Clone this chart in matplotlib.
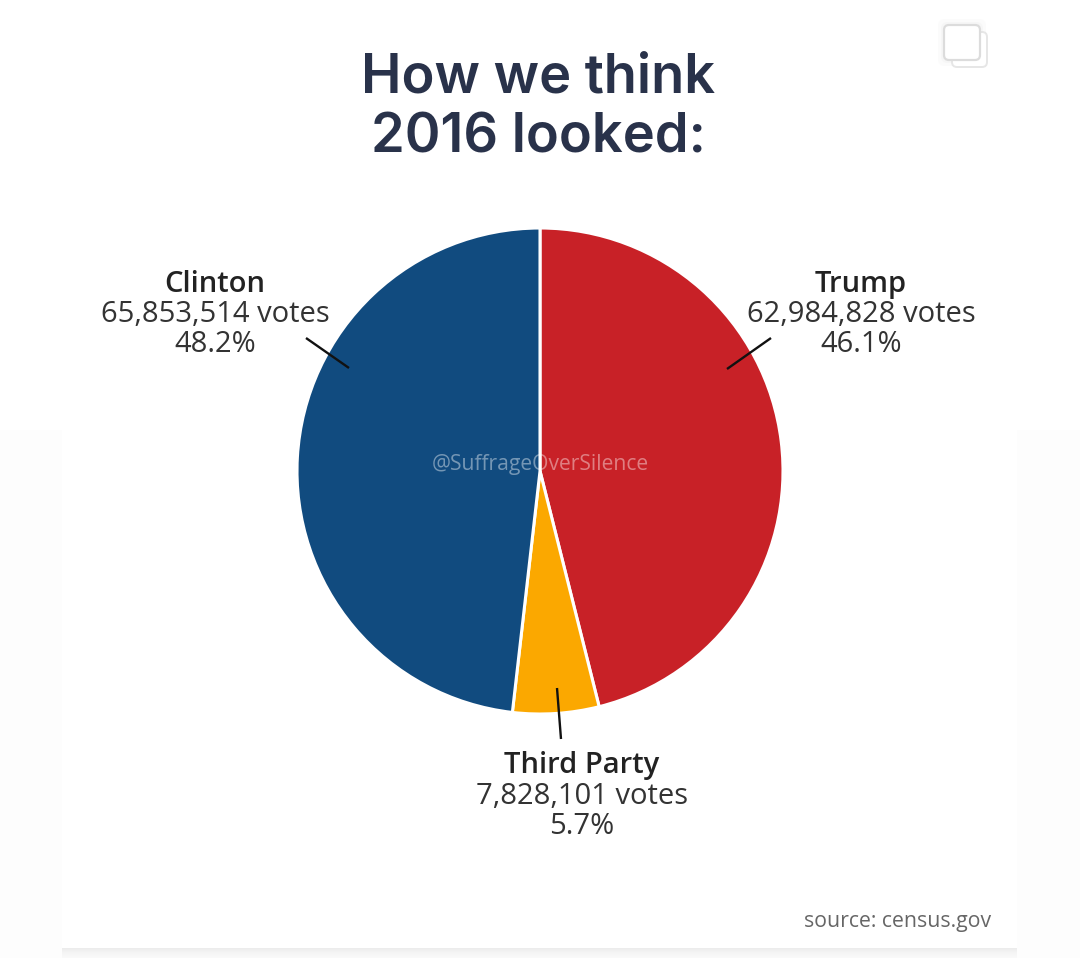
import matplotlib
matplotlib.use('Agg')
import matplotlib.pyplot as plt
from matplotlib.patches import FancyBboxPatch, Rectangle

W, H = 1080, 958

# order is clockwise from 12 o'clock, same as the reference
candidates = ['Trump', 'Third Party', 'Clinton']
votes = [62984828, 7828101, 65853514]
percents = ['46.1%', '5.7%', '48.2%']
colors = ['#c82127', '#fba800', '#114b7f']

title_lines = ['How we think', '2016 looked:']
watermark = '@SuffrageOverSilence'
source = 'source: census.gov'


def py(y):
    # reference pixels are measured from the top
    return H - y


fig = plt.figure(figsize=(W / 100, H / 100), dpi=100, facecolor='#fdfdfd')
ax = fig.add_axes([0, 0, 1, 1])

# white card behind everything, with the soft shadow along the bottom
ax.add_patch(Rectangle((62, py(948)), 955, 520, fc='white', ec='none', zorder=0))
ax.add_patch(Rectangle((0, py(430)), W, 430, fc='white', ec='none', zorder=0))
shadow = ['#ececec', '#eeeeee', '#f0f0f0', '#f2f2f2', '#f4f4f4', '#f5f5f5', '#f6f6f6', '#f7f7f7', '#f8f8f8', '#f9f9f9']
for i, c in enumerate(shadow):
    ax.add_patch(Rectangle((62, py(949 + i)), 955, 1, fc=c, ec='none', zorder=1))

# pie
ax.pie(votes, colors=colors, startangle=90, counterclock=False, radius=243,
       center=(540, py(471)), frame=True,
       wedgeprops={'edgecolor': 'white', 'linewidth': 2.2})
ax.set_xlim(0, W)
ax.set_ylim(0, H)
ax.set_aspect('equal')
ax.axis('off')

# title
ax.text(538, py(92), title_lines[0], fontsize=39, family='Inter', weight='semibold',
        color='#29324a', ha='center', va='baseline')
ax.text(538, py(152), title_lines[1], fontsize=39, family='Inter', weight='semibold',
        color='#29324a', ha='center', va='baseline')

# labels
label_pos = {'Clinton': (215, 284), 'Trump': (861, 284), 'Third Party': (582, 766)}
for name, v, p in zip(candidates, votes, percents):
    x, y = label_pos[name]
    ax.text(x, py(y), name, fontsize=21, family='Open Sans', weight='semibold',
            color='#222222', ha='center', va='center')
    ax.text(x, py(y + 30), f'{v:,} votes', fontsize=21, family='Open Sans',
            color='#333333', ha='center', va='center')
    ax.text(x, py(y + 60), p, fontsize=21, family='Open Sans',
            color='#333333', ha='center', va='center')

# leader lines
ax.plot([306, 349], [py(338), py(368)], color='#111111', lw=1.7, solid_capstyle='butt')
ax.plot([771, 727], [py(338), py(369)], color='#111111', lw=1.7, solid_capstyle='butt')
ax.plot([557, 561], [py(688), py(739)], color='#111111', lw=1.7, solid_capstyle='butt')

# watermark, half visible over the two wedges
ax.text(540, py(464), watermark, fontsize=15.2, family='Open Sans', color='white',
        alpha=0.42, ha='center', va='center')

# source
ax.text(991, py(921), source, fontsize=15.3, family='Open Sans', color='#666666',
        ha='right', va='center')

# instagram "multiple photos" icon top right, soft shadow first
for grow, c in [(6, '#fbfbfb'), (3, '#f6f6f6')]:
    ax.add_patch(FancyBboxPatch((944 - grow, py(60 + grow)), 36 + 2 * grow, 35 + 2 * grow,
                                boxstyle='round,pad=0,rounding_size=7', fc=c, ec='none', zorder=2))
ax.add_patch(FancyBboxPatch((952, py(67)), 35, 35, boxstyle='round,pad=0,rounding_size=5',
                            fc='white', ec='#e6e6e6', lw=1.4, zorder=3))
ax.add_patch(FancyBboxPatch((944, py(60)), 36, 35, boxstyle='round,pad=0,rounding_size=5',
                            fc='white', ec='#dcdcdc', lw=1.6, zorder=4))

fig.savefig('out.png', dpi=100, facecolor=fig.get_facecolor())
